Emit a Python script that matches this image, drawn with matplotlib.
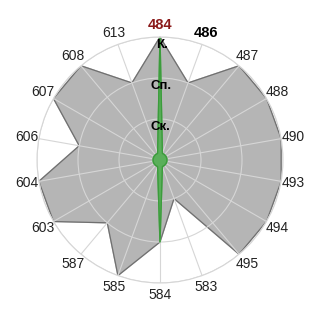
import matplotlib.pyplot as plt
import numpy as np

plt.rcParams["font.family"] = ["Liberation Sans", "DejaVu Sans"]

categories = ["484", "486", "487", "488", "490", "493", "494", "495", "583",
              "584", "585", "587", "603", "604", "606", "607", "608", "613"]
grey_values = [3, 2, 3, 3, 3, 3, 3, 3, 1, 2, 3, 2, 3, 3, 2, 3, 3, 2]
green_values = [3, 0.17, 0.17, 0.17, 0.17, 0.17, 0.17, 0.17, 0.17,
                2, 0.17, 0.17, 0.17, 0.17, 0.17, 0.17, 0.17, 0.17]
level_labels = ["Ск.", "Сп.", "К."]
levels = [1, 2, 3]

n = len(categories)
theta = np.linspace(0, 2 * np.pi, n, endpoint=False)
theta_closed = np.append(theta, theta[0])


def closed(values):
    return np.append(values, values[0])


fig = plt.figure(figsize=(3.2, 3.2), dpi=100)
ax = fig.add_axes([37 / 320, 37 / 320, 246 / 320, 246 / 320], projection="polar")
ax.set_theta_zero_location("N")
ax.set_theta_direction(-1)
ax.set_ylim(0, 3)

ax.fill(theta_closed, closed(grey_values), color="#b5b5b5", zorder=1)
ax.plot(theta_closed, closed(grey_values), color="#707070", lw=0.9, zorder=1.2)

ax.fill(theta_closed, closed(green_values), color="#5aaf5a", zorder=2)
ax.plot(theta_closed, closed(green_values), color="#3c9c3c", lw=1.0, zorder=2.1)

ax.set_xticks(theta)
ax.set_xticklabels([])
for t, cat in zip(theta, categories):
    style = dict(fontsize=10, color="#222222")
    if cat == "484":
        style = dict(fontsize=10.5, color="#8b1a1a", fontweight="bold")
    elif cat == "486":
        style = dict(fontsize=10.5, color="black", fontweight="bold")
    ax.text(t, 3.3, cat, ha="center", va="center", clip_on=False, **style)

ax.set_yticks(levels)
ax.set_yticklabels([])
for r, txt in zip(levels, level_labels):
    ax.text(0.02, r - 0.2, txt, ha="center", va="center", fontsize=9.5,
            fontweight="bold", color="black", zorder=3)

ax.grid(color="#d6d6d6", lw=0.8)
ax.spines["polar"].set_color("#d6d6d6")
ax.spines["polar"].set_linewidth(0.8)

fig.savefig("out.png", dpi=100)
